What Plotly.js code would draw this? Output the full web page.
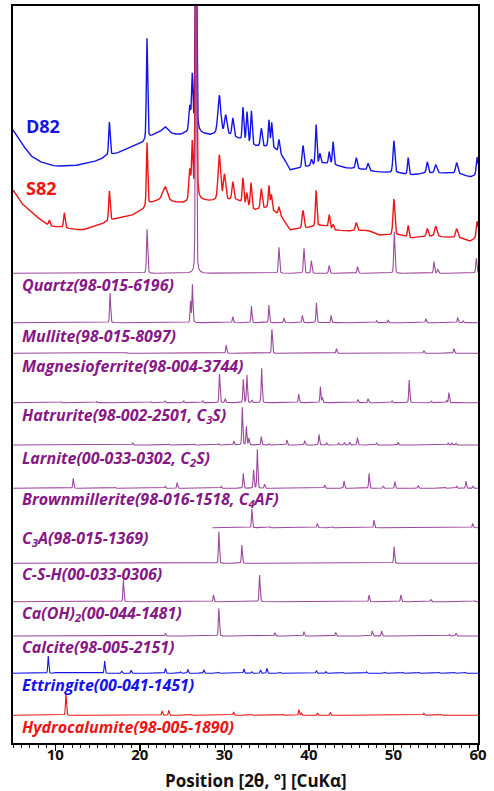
<!DOCTYPE html>
<html><head><meta charset="utf-8">
<script src="https://cdn.plot.ly/plotly-3.0.1.min.js"></script>
<style>html,body{margin:0;padding:0;background:#fff}#chart{width:494px;height:791px}</style>
</head><body><div id="chart"></div>
<script>
// ---------------- DATA ----------------
const xTicks = [10, 20, 30, 40, 50, 60];
const xTitle = 'Position [2θ, °] [CuKα]';

// measured pattern D82: background points and peaks
const d82BgPos = [5, 6, 7, 8, 9, 10, 12, 14, 15.2, 16, 17.3, 19, 20.3, 21.2, 22, 23.1, 24.7, 25.5, 27, 28.3, 30, 31.5, 33.6, 35, 36, 37, 37.7, 39.7, 41.7, 43, 44.5, 46, 48.2, 50.7, 51.9, 54, 56, 58, 59.05, 60];
const d82BgInt = [53, 40, 28, 22, 19, 17, 17, 20, 23, 27, 30, 36, 40, 46, 50, 50, 48, 50, 50, 48, 50, 45, 37, 36, 34, 26, 13, 16, 20, 18, 15, 14, 11, 10, 8, 10, 10, 9, 6, 8];
const d82PeakPos = [16.4, 20.85, 23.0, 25.9, 26.2, 26.64, 29.4, 30.15, 31.0, 32.2, 32.68, 33.2, 34.37, 35.27, 35.6, 36.46, 39.3, 40.3, 40.85, 41.3, 42.4, 42.86, 45.6, 47.0, 50.05, 51.74, 54.0, 55.0, 57.47, 59.9];
const d82PeakInt = [33, 101, 6, 25, 55, 250, 38, 18, 18, 33, 30, 33, 18, 27, 25, 13, 22, 6, 40, 10, 12, 23, 11, 7, 32, 17, 11, 8, 11, 18];
const d82PeakWidth = [0.2, 0.18, 0.8, 0.25, 0.2, 0.2, 0.4, 0.3, 0.25, 0.2, 0.2, 0.2, 0.25, 0.2, 0.2, 0.2, 0.25, 0.2, 0.2, 0.2, 0.2, 0.2, 0.25, 0.25, 0.25, 0.2, 0.25, 0.3, 0.3, 0.25];

// measured pattern S82
const s82BgPos = [5, 6, 7.3, 8, 9.3, 10.5, 12, 13.2, 15.2, 16, 17.3, 19.1, 20.3, 21.2, 22.3, 23.1, 24, 25.1, 27, 28.3, 30, 31.5, 33.6, 35, 36, 36.8, 37.7, 39.7, 41.7, 43, 44.5, 46.9, 48.2, 50.7, 52, 54.8, 56, 58, 59.05, 60];
const s82BgInt = [58, 45, 35, 30, 22, 21, 19, 18, 23, 26, 30, 33, 38, 45, 48, 48, 46, 45, 48, 47, 48, 48, 38, 40, 36, 31, 18, 20, 23, 18, 17, 18, 13, 13, 10, 12, 11, 10, 7, 10];
const s82PeakPos = [9.3, 11.07, 16.4, 20.85, 22.6, 23.0, 25.9, 26.2, 26.64, 29.4, 30.0, 31.0, 32.2, 32.65, 33.15, 34.37, 35.27, 35.56, 36.46, 39.3, 40.85, 42.4, 42.86, 45.6, 50.05, 51.74, 54.0, 55.0, 57.47, 59.9];
const s82PeakInt = [6, 15, 30, 63, 3, 13, 30, 55, 300, 45, 25, 18, 25, 12, 25, 20, 23, 15, 8, 18, 36, 13, 5, 8, 36, 12, 8, 10, 9, 17];
const s82PeakWidth = [0.2, 0.2, 0.2, 0.18, 0.2, 0.6, 0.25, 0.2, 0.2, 0.35, 0.3, 0.25, 0.2, 0.2, 0.2, 0.25, 0.2, 0.2, 0.2, 0.25, 0.2, 0.2, 0.2, 0.25, 0.25, 0.2, 0.25, 0.3, 0.3, 0.25];

// reference phases: peak positions and intensities
const quartzPos = [20.86, 26.64, 36.46, 39.42, 40.29, 42.4, 45.76, 50.1, 54.8, 55.25, 59.8];
const quartzInt = [44, 290, 26, 25, 12.6, 8, 6.6, 41.6, 11.6, 4, 15];
const mullitePos = [16.48, 26.0, 26.22, 31.0, 33.2, 35.27, 37.05, 39.23, 40.89, 42.62, 48.0, 49.37, 53.84, 57.6, 58.26];
const mulliteInt = [30, 21, 38, 6, 16.7, 17.7, 4.7, 7.4, 20, 7.4, 2, 2.7, 4, 5.3, 1.7];
const magnesioPos = [18.4, 30.22, 35.63, 43.26, 53.6, 57.15];
const magnesioInt = [0.8, 8.3, 24, 4.7, 2.7, 4.7];
const hatruritePos = [10.67, 14.9, 21.3, 23.0, 25.2, 27.45, 29.43, 30.1, 32.24, 32.67, 33.26, 34.41, 38.8, 41.36, 41.6, 45.8, 47.0, 49.84, 51.86, 54.5, 56.3, 56.56];
const hatruriteInt = [1, 1.3, 1, 1.5, 1.7, 1.7, 28.7, 4, 23.3, 27.7, 2.7, 34.3, 8.7, 16, 5, 3.3, 4, 1.7, 22.7, 1.5, 2, 10];
const larnitePos = [19.16, 23.4, 26.4, 29.3, 31.12, 32.12, 32.6, 32.9, 34.37, 35.27, 37.4, 39.5, 41.2, 42.1, 43.5, 44.2, 44.83, 45.74, 48.0, 50.56, 56.48, 56.9, 57.4];
const larniteInt = [2, 1, 1, 1.3, 4, 37.7, 18.3, 6.7, 8.3, 1.5, 5, 4.3, 10.7, 2, 2, 2.5, 3, 7.3, 2.3, 2.7, 2, 2, 1.7];
const brownPos = [12.13, 17.07, 23.0, 24.42, 29.6, 32.24, 33.46, 33.9, 34.76, 41.87, 44.16, 47.12, 48.78, 50.17, 52.93, 56.1, 57.47, 58.58, 59.4];
const brownInt = [10, 1, 2, 5.7, 2, 15, 18.3, 39, 4, 3.3, 7.3, 15, 2.3, 6.7, 2.7, 1, 2, 7.3, 2];
const c3aStart = 28.6;
const c3aPos = [33.26, 35.35, 41.0, 42.78, 47.7, 59.37];
const c3aInt = [18.7, 1, 4.3, 1, 7.7, 4.3];
const cshPos = [29.35, 32.07, 50.08];
const cshInt = [31.7, 18.3, 16.7];
const caoh2Pos = [18.06, 28.72, 34.17, 47.12, 50.88, 54.43, 59.6];
const caoh2Int = [21.7, 6.7, 26.7, 6.7, 6.7, 2.3, 1];
const calcitePos = [23.03, 29.35, 31.5, 35.98, 39.42, 43.17, 47.5, 48.6, 56.6, 57.4];
const calciteInt = [2.7, 27.7, 0.7, 3.3, 4.3, 3.7, 5, 5, 1.3, 2.7];
const ettringitePos = [9.17, 10.0, 15.84, 17.86, 18.97, 23.03, 24.8, 25.68, 27.57, 29.3, 32.31, 33.22, 34.28, 35.03, 36.6, 40.89, 42.0, 44.0, 46.8, 49.0, 51.1, 53.0, 55.4, 57.2, 58.5];
const ettringiteInt = [17.3, 0.7, 12.3, 2.3, 3, 5, 1.5, 4, 3.7, 1, 4.3, 1.5, 3.3, 5, 1, 2.7, 1.7, 1, 1.5, 1, 1, 1, 1, 1, 1];
const hydroPos = [11.26, 22.64, 23.43, 26.1, 31.09, 33.2, 36.93, 38.83, 39.1, 41.0, 42.53, 53.6, 55.3, 55.6];
const hydroInt = [22, 4.3, 5, 1, 3.3, 1, 1, 5.7, 2, 2, 2.7, 2, 1, 1];

const phaseLabels = [
  'Quartz(98-015-6196)', 'Mullite(98-015-8097)', 'Magnesioferrite(98-004-3744)',
  'Hatrurite(98-002-2501, C<sub>3</sub>S)', 'Larnite(00-033-0302, C<sub>2</sub>S)',
  'Brownmillerite(98-016-1518, C<sub>4</sub>AF)', 'C<sub>3</sub>A(98-015-1369)',
  'C-S-H(00-033-0306)', 'Ca(OH)<sub>2</sub>(00-044-1481)', 'Calcite(98-005-2151)',
  'Ettringite(00-041-1451)', 'Hydrocalumite(98-005-1890)'
];
const sampleLabels = ['D82', 'S82'];

// ---------------- LAYOUT / STYLE ----------------
const PURPLE_LINE = '#9c489c', PURPLE_TEXT = '#861886';
const BLUE = '#1414e8', RED = '#ee1414';
const FONT = 'Open Sans, Noto Sans, sans-serif';
// vertical offsets of stacked patterns (plot units = pixels above x axis)
const sampleOffsets = [560, 495];
const phaseOffsets = [469.7, 420.3, 389.7, 340.3, 298, 254.7, 215.3, 179.7, 141.3, 107, 69.7, 27.7];
const phaseLabelY = [458, 407, 377, 328, 285, 244, 205, 169, 130, 96, 58, 16];
const phaseTextColors = [PURPLE_TEXT, PURPLE_TEXT, PURPLE_TEXT, PURPLE_TEXT, PURPLE_TEXT, PURPLE_TEXT, PURPLE_TEXT, PURPLE_TEXT, PURPLE_TEXT, PURPLE_TEXT, BLUE, RED];
const lineColors = [PURPLE_LINE, PURPLE_LINE, PURPLE_LINE, PURPLE_LINE, PURPLE_LINE, PURPLE_LINE, PURPLE_LINE, PURPLE_LINE, PURPLE_LINE, PURPLE_LINE, BLUE, RED];

// ---------------- BUILD ----------------
const X0 = 5, X1 = 60, STEP = 0.01;
const grid = [];
for (let i = 0; i <= Math.round((X1 - X0) / STEP); i++) grid.push(+(X0 + i * STEP).toFixed(2));

function pv(dx, w) { const t = (2 * dx / w) ** 2; return 0.3 / (1 + t) + 0.7 * Math.exp(-Math.LN2 * t); }
function interp(x, xs, ys) {
  if (x <= xs[0]) return ys[0];
  for (let i = 1; i < xs.length; i++) if (x <= xs[i]) {
    const f = (x - xs[i - 1]) / (xs[i] - xs[i - 1]); return ys[i - 1] + f * (ys[i] - ys[i - 1]);
  }
  return ys[ys.length - 1];
}
function profile(pos, ints, widths, defW, bgPos, bgInt, start, offset) {
  const xs = [], ys = [];
  for (const x of grid) {
    if (start != null && x < start) continue;
    let y = bgPos ? interp(x, bgPos, bgInt) : 0;
    for (let k = 0; k < pos.length; k++) {
      const dx = x - pos[k]; if (Math.abs(dx) > 4) continue;
      y += ints[k] * pv(dx, widths ? widths[k] : defW);
    }
    xs.push(x); ys.push(y + offset);
  }
  return { xs, ys };
}

const traces = [];
const d82 = profile(d82PeakPos, d82PeakInt, d82PeakWidth, 0.2, d82BgPos, d82BgInt, null, sampleOffsets[0]);
const s82 = profile(s82PeakPos, s82PeakInt, s82PeakWidth, 0.2, s82BgPos, s82BgInt, null, sampleOffsets[1]);
traces.push({ x: d82.xs, y: d82.ys, mode: 'lines', line: { color: BLUE, width: 1.4 }, hoverinfo: 'skip', name: sampleLabels[0] });
traces.push({ x: s82.xs, y: s82.ys, mode: 'lines', line: { color: RED, width: 1.4 }, hoverinfo: 'skip', name: sampleLabels[1] });

const phases = [
  [quartzPos, quartzInt, null], [mullitePos, mulliteInt, null], [magnesioPos, magnesioInt, null],
  [hatruritePos, hatruriteInt, null], [larnitePos, larniteInt, null], [brownPos, brownInt, null],
  [c3aPos, c3aInt, c3aStart], [cshPos, cshInt, null], [caoh2Pos, caoh2Int, null],
  [calcitePos, calciteInt, null], [ettringitePos, ettringiteInt, null], [hydroPos, hydroInt, null]
];
phases.forEach((p, i) => {
  const pr = profile(p[0], p[1], null, i === 0 ? 0.16 : 0.13, null, null, p[2], phaseOffsets[i]);
  traces.push({ x: pr.xs, y: pr.ys, mode: 'lines', line: { color: lineColors[i], width: 1.1 }, hoverinfo: 'skip', name: phaseLabels[i] });
});

const annotations = [];
const labelX = (20 - 13.5) / 464.5;
phaseLabels.forEach((t, i) => {
  annotations.push({
    xref: 'paper', yref: 'y', x: labelX, y: phaseLabelY[i], xanchor: 'left', yanchor: 'middle',
    text: '<b><i>' + t + '</i></b>', showarrow: false,
    font: { family: FONT, size: 16, color: phaseTextColors[i] }
  });
});
const sampleLabelY = [617, 555];
const sampleColors = [BLUE, RED];
sampleLabels.forEach((t, i) => {
  annotations.push({
    xref: 'paper', yref: 'y', x: (24 - 13.5) / 464.5, y: sampleLabelY[i], xanchor: 'left', yanchor: 'middle',
    text: '<b>' + t + '</b>', showarrow: false,
    font: { family: FONT, size: 18, color: sampleColors[i] }
  });
});
// x-axis title, placed below the tick labels
annotations.push({
  xref: 'paper', yref: 'paper', x: (256 - 13.5) / 464.5, y: -(780 - 743) / 737, xanchor: 'center', yanchor: 'middle',
  text: '<b>' + xTitle + '</b>', showarrow: false, font: { family: FONT, size: 17, color: '#111' }
});

const layout = {
  width: 494, height: 791, showlegend: false,
  paper_bgcolor: '#fff', plot_bgcolor: '#fff',
  margin: { l: 13, r: 16, t: 6, b: 48 },
  xaxis: {
    range: [5, 60], tickvals: xTicks, ticks: 'outside', ticklen: 6, tickwidth: 1.5, tickcolor: '#000',
    minor: { dtick: 1, tick0: 0, ticks: 'outside', ticklen: 3, tickwidth: 1, tickcolor: '#000' },
    showline: true, linewidth: 2, linecolor: '#000', mirror: true, showgrid: false, zeroline: false,
    ticklabelstandoff: -9,
    tickfont: { family: FONT, size: 15, color: '#111', weight: 'bold' }
  },
  yaxis: {
    range: [0, 737], showticklabels: false, ticks: '', showline: true, linewidth: 2, linecolor: '#000',
    mirror: true, showgrid: false, zeroline: false
  },
  annotations
};
Plotly.newPlot('chart', traces, layout, { staticPlot: true, displayModeBar: false });
</script>
</body></html>
